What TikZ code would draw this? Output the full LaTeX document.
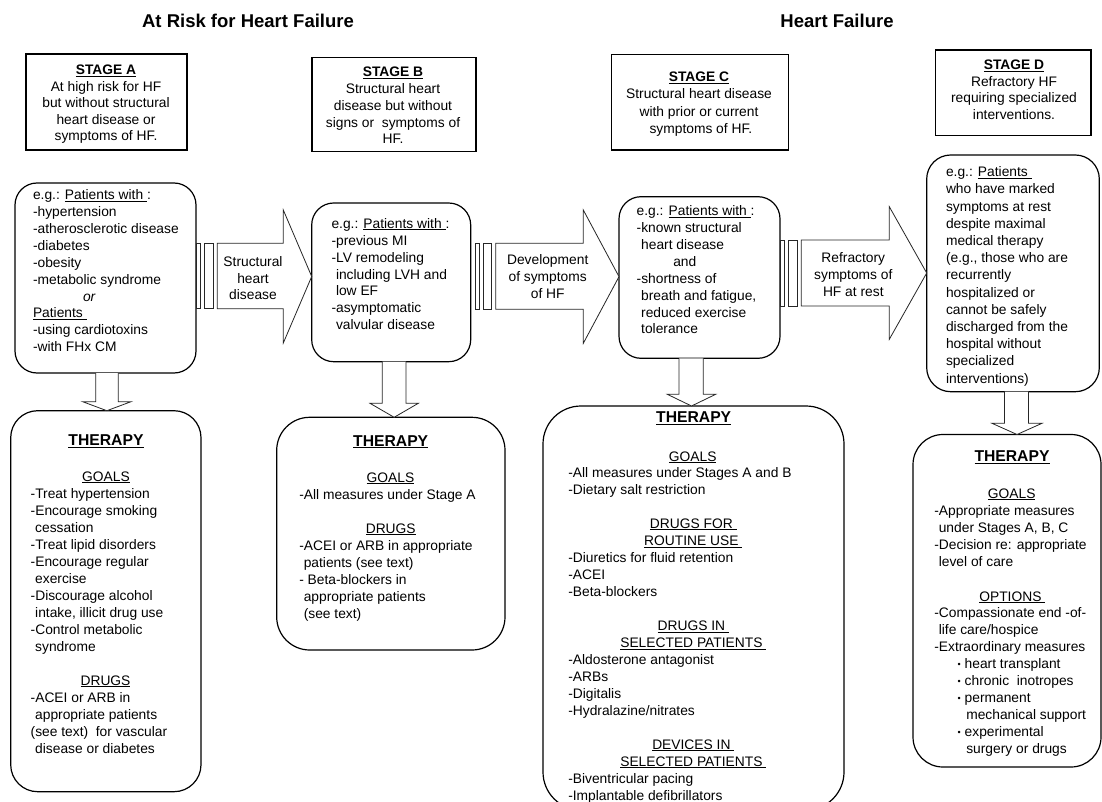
\documentclass[tikz,border=0pt]{standalone}
\usepackage{fontspec}
\setmainfont{Liberation Sans}
\usetikzlibrary{calc}
\newsavebox\ulbox
\newcommand\myul[1]{\sbox\ulbox{#1}\rlap{\rule[-2pt]{\wd\ulbox}{0.9pt}}\usebox\ulbox}
\newcommand\LB[2]{{\fontsize{13.8}{#1}\selectfont\begin{tabular}[t]{@{}l@{}}#2\end{tabular}}}
\newcommand\CB[2]{{\fontsize{13.8}{#1}\selectfont\begin{tabular}[t]{@{}c@{}}#2\end{tabular}}}
\newcommand\ind{\hspace*{4.5pt}}
\newcommand\thr{{\fontsize{15.7}{18}\selectfont\bfseries\myul{THERAPY}}}
\newcommand\bul{\makebox[7pt][l]{\fontsize{9}{9}\selectfont\raisebox{1pt}{•}}}
% right striped block arrow: x0, headbase, tip, bodytop, bodybottom, headtop, headbottom
\newcommand\rightblk[7]{%
  \draw[blk] (#1,#4) rectangle ({#1+4.2},#5);
  \draw[blk] ({#1+8.3},#4) rectangle ({#1+16.6},#5);
  \draw[blk] ({#1+20.8},#4) -- (#2,#4) -- (#2,#6) -- (#3,{(#6+#7)/2}) -- (#2,#7) -- (#2,#5) -- ({#1+20.8},#5) -- cycle;}
% down block arrow: shaftleft, shaftright, top, headleft, headright, headtop, tip
\newcommand\downblk[7]{%
  \draw[blk] (#1,#3) -- (#1,#6) -- (#4,#6) -- ({(#4+#5)/2},#7) -- (#5,#6) -- (#2,#6) -- (#2,#3);}
\begin{document}
\begin{tikzpicture}[x=1pt,y=-1pt,
  box/.style={draw, line width=1.2pt, inner sep=0pt, outer sep=0pt},
  txt/.style={inner sep=0pt, outer sep=0pt},
  blk/.style={draw=black!85, line width=0.8pt, fill=white, line join=miter}]
\useasboundingbox (0,0) rectangle (1102,802);

% titles
\node[txt, anchor=base] (title1) at (248,27.3) {\fontsize{18.5}{22}\selectfont\bfseries At Risk for Heart Failure};
\node[txt, anchor=base] (title2) at (837,27.3) {\fontsize{18.5}{22}\selectfont\bfseries Heart Failure};

% stage boxes
\node[box, minimum width=161pt, minimum height=96pt] (sA) at (106.5,102) {};
\node[box, minimum width=164pt, minimum height=94.2pt] (sB) at (394,104.6) {};
\node[box, minimum width=177pt, minimum height=95.7pt] (sC) at (700,102.15) {};
\node[box, minimum width=155.7pt, minimum height=85.7pt] (sD) at (1013.15,92.85) {};

\node[txt, anchor=base] (sAt) at (106,74.5) {\CB{16.6}{\textbf{\myul{STAGE A}}\\At high risk for HF\\but without structural\\heart disease or\\symptoms of HF.}};
\node[txt, anchor=base] (sBt) at (393,76.7) {\CB{16.8}{\textbf{\myul{STAGE B}}\\Structural heart\\disease but without\\signs or\ \ symptoms of\\HF.}};
\node[txt, anchor=base] (sCt) at (699,81.7) {\CB{17.2}{\textbf{\myul{STAGE C}}\\Structural heart disease\\with prior or current\\\ symptoms of HF.}};
\node[txt, anchor=base] (sDt) at (1014,70) {\CB{16.5}{\textbf{\myul{STAGE D}}\\Refractory HF\\requiring specialized\\interventions.}};

% patient boxes
\node[box, rounded corners=22pt, minimum width=181pt, minimum height=190pt] (pA) at (105.5,278) {};
\node[box, rounded corners=22pt, minimum width=159pt, minimum height=158.7pt] (pB) at (391.2,282.35) {};
\node[box, rounded corners=22pt, minimum width=161pt, minimum height=161.6pt] (pC) at (699.5,277.5) {};
\node[box, rounded corners=24pt, minimum width=172.6pt, minimum height=236.7pt] (pD) at (1013,273.35) {};

\node[txt, anchor=base west] (pAt) at (33,200) {\LB{16.85}{e.g.: \myul{Patients with }:\\-hypertension\\-atherosclerotic disease\\-diabetes\\-obesity\\-metabolic syndrome\\\hspace*{50pt}\textit{or}\\\myul{Patients }\\-using cardiotoxins\\-with FHx CM}};
\node[txt, anchor=base west] (pBt) at (331.5,228.3) {\LB{16.9}{e.g.: \myul{Patients with }:\\-previous MI\\-LV remodeling\\\ind including LVH and\\\ind low EF\\-asymptomatic\\\ind valvular disease}};
\node[txt, anchor=base west] (pCt) at (636.7,215.7) {\LB{16.9}{e.g.: \myul{Patients with }:\\-known structural\\\ind heart disease\\\hspace*{36.6pt}and\\-shortness of\\\ind breath and fatigue,\\\ind reduced exercise\\\ind tolerance}};
\node[txt, anchor=base west] (pDt) at (946,176.7) {\LB{17.2}{e.g.: \myul{Patients }\\who have marked\\symptoms at rest\\despite maximal\\medical therapy\\(e.g., those who are\\recurrently\\hospitalized or\\cannot be safely\\discharged from the\\hospital without\\specialized\\interventions)}};

% striped right arrows
\rightblk{196.5}{283.3}{311.7}{243.3}{308.8}{210}{343}
\rightblk{475}{583.3}{619}{243.3}{309.3}{210}{343.3}
\rightblk{780.5}{889.3}{926.7}{240}{306}{206.7}{339.3}
\node[txt, anchor=base] (a1t) at (253,266.5) {\CB{16.7}{Structural\\heart\\disease}};
\node[txt, anchor=base] (a2t) at (547.7,265) {\CB{17}{Development\\of symptoms\\of HF}};
\node[txt, anchor=base] (a3t) at (853.3,262.3) {\CB{16.9}{Refractory\\symptoms of\\HF at rest}};

% therapy boxes
\node[box, rounded corners=27pt, minimum width=190.3pt, minimum height=381pt] (tA) at (105.85,601.2) {};
\node[box, rounded corners=33pt, minimum width=228.3pt, minimum height=232.7pt] (tB) at (390.85,533.65) {};
\node[box, rounded corners=38pt, minimum width=301pt, minimum height=404pt] (tC) at (693.5,608) {};
\node[box, rounded corners=30pt, minimum width=188pt, minimum height=332.5pt] (tD) at (1007,600.75) {};

% down arrows
\downblk{95.7}{118.3}{373}{82.7}{131}{401.7}{410.7}
\downblk{382.3}{406}{361.7}{370}{418.3}{403.3}{417.3}
\downblk{679}{703.3}{358.3}{667.3}{715.7}{394.3}{406}
\downblk{1004.5}{1028.5}{391.7}{992}{1042}{423.3}{434.5}

% therapy A
\node[txt, anchor=base] (tAh) at (106,445.5) {\thr};
\node[txt, anchor=base] (tAg) at (106,481) {\CB{17}{\myul{GOALS}}};
\node[txt, anchor=base west] (tAl) at (30.7,498.3) {\LB{17.04}{-Treat hypertension\\-Encourage smoking\\\ind cessation\\-Treat lipid disorders\\-Encourage regular\\\ind exercise\\-Discourage alcohol\\\ind intake, illicit drug use\\-Control metabolic\\\ind syndrome}};
\node[txt, anchor=base] (tAd) at (105.5,685) {\CB{17}{\myul{DRUGS}}};
\node[txt, anchor=base west] (tAm) at (30.7,702.3) {\LB{17}{-ACEI or ARB in\\\ind appropriate patients\\(see text)\ \ for vascular\\\ind disease or diabetes}};

% therapy B
\node[txt, anchor=base] (tBh) at (390.7,446) {\thr};
\node[txt, anchor=base] (tBg) at (390.5,482.3) {\CB{17}{\myul{GOALS}}};
\node[txt, anchor=base west] (tBl) at (299.3,499.3) {\LB{17}{-All measures under Stage A}};
\node[txt, anchor=base] (tBd) at (390.7,533.3) {\CB{17}{\myul{DRUGS}}};
\node[txt, anchor=base west] (tBm) at (299.3,550.7) {\LB{16.9}{-ACEI or ARB in appropriate\\\ind patients (see text)\\- Beta-blockers in\\\ind appropriate patients\\\ind (see text)}};

% therapy C
\node[txt, anchor=base] (tCh) at (693.7,422.5) {\thr};
\node[txt, anchor=base] (tCg) at (692.7,461) {\CB{17}{\myul{GOALS}}};
\node[txt, anchor=base west] (tCl) at (568.3,477.7) {\LB{16.7}{-All measures under Stages A and B\\-Dietary salt restriction}};
\node[txt, anchor=base] (tCd) at (693.3,528.3) {\CB{17.4}{\myul{DRUGS FOR }\\\myul{ROUTINE USE }}};
\node[txt, anchor=base west] (tCm) at (568.3,562.3) {\LB{17.2}{-Diuretics for fluid retention\\-ACEI\\-Beta-blockers}};
\node[txt, anchor=base] (tCs) at (693.3,630.7) {\CB{16.7}{\myul{DRUGS IN }\\\myul{SELECTED PATIENTS }}};
\node[txt, anchor=base west] (tCn) at (568.3,664.3) {\LB{16.9}{-Aldosterone antagonist\\-ARBs\\-Digitalis\\-Hydralazine/nitrates}};
\node[txt, anchor=base] (tCv) at (693.3,749.3) {\CB{16.7}{\myul{DEVICES IN }\\\myul{SELECTED PATIENTS }}};
\node[txt, anchor=base west] (tCo) at (568.3,783.3) {\LB{17.4}{-Biventricular pacing\\-Implantable defibrillators}};

% therapy D
\node[txt, anchor=base] (tDh) at (1012,461.7) {\thr};
\node[txt, anchor=base] (tDg) at (1011.7,498.3) {\CB{17}{\myul{GOALS}}};
\node[txt, anchor=base west] (tDl) at (934.3,515.7) {\LB{17}{-Appropriate measures\\\ind under Stages A, B, C\\-Decision re: appropriate\\\ind level of care}};
\node[txt, anchor=base] (tDo) at (1012.3,601) {\CB{17}{\myul{OPTIONS }}};
\node[txt, anchor=base west] (tDm) at (934.3,617.3) {\LB{17.2}{-Compassionate end -of-\\\ind life care/hospice\\-Extraordinary measures}};
\node[txt, anchor=base west] (tDb) at (957.7,668.3) {\LB{17}{\bul heart transplant\\\bul chronic\ \ inotropes\\\bul permanent\\\hspace*{8.6pt}mechanical support\\\bul experimental\\\hspace*{8.6pt}surgery or drugs}};
\end{tikzpicture}
\end{document}
